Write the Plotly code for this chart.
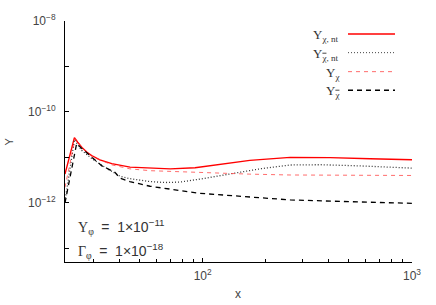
import numpy as np
import plotly.graph_objects as go

# ---------------- data ----------------
x_chi_nt = [22.0, 24.4, 25.3, 26.5, 27.95, 29.5, 32.3, 36.8, 45.0, 56, 70, 92, 121, 168, 262, 406, 631, 1000]
y_chi_nt = [4.3e-12, 2.73e-11, 2.15e-11, 1.66e-11, 1.31e-11, 1.10e-11, 8.8e-12, 7.3e-12, 6.1e-12,
            5.75e-12, 5.6e-12, 5.9e-12, 7.1e-12, 8.6e-12, 1.0e-11, 9.9e-12, 9.3e-12, 8.9e-12]

x_chibar_nt = [22.0, 24.4, 25.3, 26.5, 29.5, 33.0, 38.1, 40.2, 44.9, 56, 66, 77.8, 97, 135, 188, 262, 365, 566, 1000]
y_chibar_nt = [1.08e-12, 2.44e-11, 1.9e-11, 1.41e-11, 9.5e-12, 6.68e-12, 4.5e-12, 3.86e-12, 3.41e-12,
               2.94e-12, 2.8e-12, 2.86e-12, 3.33e-12, 4.3e-12, 5.6e-12, 6.8e-12, 6.9e-12, 6.5e-12, 5.8e-12]

x_chi = [22.0, 24.6, 26.5, 29.5, 36.8, 44.9, 56, 97, 168, 262, 507, 1000]
y_chi = [2.2e-12, 2.6e-11, 1.6e-11, 1.05e-11, 6.86e-12, 5.6e-12, 5.1e-12, 4.6e-12, 4.28e-12, 4.1e-12, 4.05e-12, 4.0e-12]

x_chibar = [22.0, 25.0, 26.5, 29.5, 33.0, 38.1, 40.2, 44.9, 56, 97, 168, 262, 507, 1000]
y_chibar = [1.0e-12, 2.0e-11, 1.56e-11, 1.0e-11, 6.5e-12, 4.7e-12, 3.5e-12, 2.94e-12, 2.32e-12,
            1.62e-12, 1.32e-12, 1.16e-12, 1.06e-12, 9.75e-13]

OV = "<span style='text-decoration:overline'>χ</span>"
legend_labels = ["Y<sub>χ, nt</sub>", f"Y<sub>{OV}, nt</sub>", "Y<sub>χ</sub>", f"Y<sub>{OV}</sub>"]

x_range = [22, 1000]
y_range = [5e-14, 1e-8]
x_major = [100, 1000]
x_minor = [30, 40, 50, 60, 70, 80, 90, 200, 300, 400, 500, 600, 700, 800, 900]
y_decades = [1e-8, 1e-9, 1e-10, 1e-11, 1e-12, 1e-13]
y_ticktext = ["10<sup>−8</sup>", "", "10<sup>−10</sup>", "", "10<sup>−12</sup>", ""]

# ---------------- styling ----------------
W, H = 436, 305
L, R, T, B = 65, 24, 16, 43
styles = [
    dict(color="#ff0000", width=1.4, dash="solid"),
    dict(color="#333333", width=1.3, dash="1px,2px"),
    dict(color="rgba(255,60,60,0.75)", width=1.0, dash="4px,4px"),
    dict(color="#000000", width=1.3, dash="5px,4px"),
]
series = [(x_chi_nt, y_chi_nt), (x_chibar_nt, y_chibar_nt), (x_chi, y_chi), (x_chibar, y_chibar)]

fig = go.Figure()
for (xs, ys), st in zip(series, styles):
    fig.add_trace(go.Scatter(x=xs, y=ys, mode="lines", line=st, showlegend=False, hoverinfo="skip"))

tickfont = dict(family="Liberation Sans", size=12, color="#444444")
lx = [np.log10(v) for v in x_range]
ly = [np.log10(v) for v in y_range]

fig.update_layout(
    width=W, height=H,
    margin=dict(l=L, r=R, t=T, b=B),
    paper_bgcolor="white", plot_bgcolor="white",
    xaxis=dict(type="log", range=lx, showgrid=False, zeroline=False, showline=True,
               linecolor="#000", linewidth=1, ticks="inside", ticklen=4, tickcolor="#000",
               tickvals=x_major, ticktext=["10<sup>2</sup>", "10<sup>3</sup>"], tickfont=tickfont,
               ticklabelstandoff=3,
               minor=dict(tickvals=x_minor, ticks="inside", ticklen=3, tickcolor="#000", showgrid=False)),
    yaxis=dict(type="log", range=ly, showgrid=False, zeroline=False, showline=True,
               linecolor="#000", linewidth=1, ticks="inside", ticklen=4, tickcolor="#000",
               tickvals=y_decades, ticktext=y_ticktext, tickfont=tickfont, ticklabelstandoff=6),
    xaxis2=dict(type="log", range=lx, overlaying="x", side="top", anchor="y", showgrid=False,
                zeroline=False, showline=True, linecolor="#888", linewidth=1, ticks="inside",
                ticklen=4, tickcolor="#888", tickvals=x_major, showticklabels=False,
                minor=dict(tickvals=x_minor, ticks="inside", ticklen=3, tickcolor="#888", showgrid=False)),
    yaxis2=dict(type="log", range=ly, overlaying="y", side="right", anchor="x", showgrid=False,
                zeroline=False, showline=True, linecolor="#666", linewidth=1, ticks="inside",
                ticklen=4, tickcolor="#666", tickvals=y_decades, showticklabels=False),
)

pw = W - L - R
ph = H - T - B
def px2paper(xp, yp):
    return (xp - L) / pw, (H - B - yp) / ph

anns = []
shapes = []
legend_y = [29.3, 48.3, 67.7, 86.7]
for lab, st, yp in zip(legend_labels, styles, legend_y):
    tx, ty = px2paper(341, yp + 1.5)
    anns.append(dict(x=tx, y=ty, xref="paper", yref="paper", xanchor="right", yanchor="middle",
                     text=lab, showarrow=False,
                     font=dict(family="Liberation Serif", size=13, color="#333")))
    x0, yy = px2paper(348, yp)
    x1, _ = px2paper(395, yp)
    lst = dict(st)
    if st["dash"] == "1px,2px":
        lst = dict(color="#444", width=1.0, dash="1px,2px")
    shapes.append(dict(type="line", xref="paper", yref="paper", x0=x0, x1=x1, y0=yy, y1=yy,
                       line=lst))

sans = "font-family:Liberation Sans"
t1x, t1y = px2paper(76, 226)
t2x, t2y = px2paper(76, 251)
anns.append(dict(x=t1x, y=t1y, xref="paper", yref="paper", xanchor="left", yanchor="middle",
                 showarrow=False, font=dict(family="Liberation Serif", size=14, color="#333"),
                 text=f"Y<sub>φ</sub> <span style='{sans}'> =  1×10<sup>−11</sup></span>"))
anns.append(dict(x=t2x, y=t2y, xref="paper", yref="paper", xanchor="left", yanchor="middle",
                 showarrow=False, font=dict(family="Liberation Serif", size=14, color="#333"),
                 text=f"Γ<sub>φ</sub> <span style='{sans}'> =  1×10<sup>−18</sup></span>"))

xlx, xly = px2paper(238, 295)
anns.append(dict(x=xlx, y=xly, xref="paper", yref="paper", xanchor="center", yanchor="middle",
                 showarrow=False, text="x", font=dict(family="Liberation Sans", size=12, color="#444")))
ylx, yly = px2paper(8, 139)
anns.append(dict(x=ylx, y=yly, xref="paper", yref="paper", xanchor="center", yanchor="middle",
                 showarrow=False, text="Y", textangle=-90,
                 font=dict(family="Liberation Sans", size=11, color="#444")))

fig.update_layout(annotations=anns, shapes=shapes)
fig.write_html("out.html", config={"displayModeBar": False},
               post_script="document.body.style.margin='0';document.body.style.padding='0';")
